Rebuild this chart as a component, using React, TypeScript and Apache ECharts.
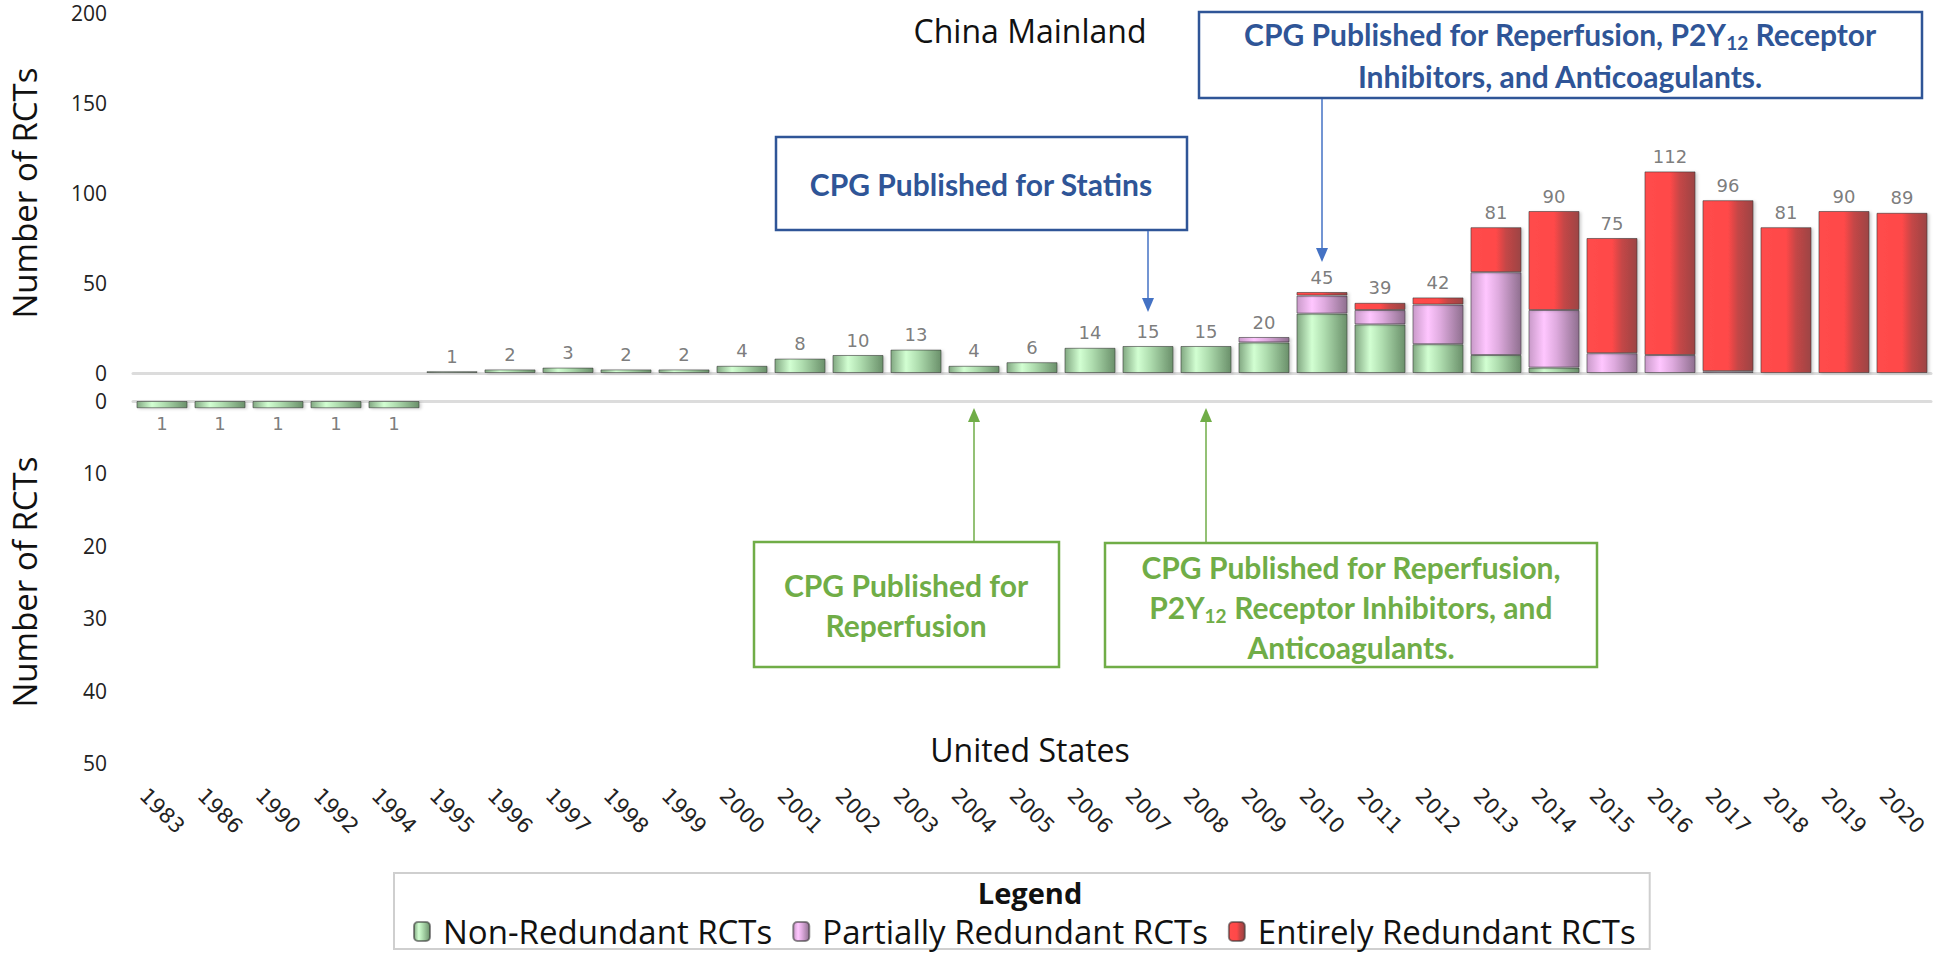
import React, { useEffect, useRef } from 'react';
import * as echarts from 'echarts';

const years = ['1983','1986','1990','1992','1994','1995','1996','1997','1998','1999','2000','2001','2002','2003','2004','2005','2006','2007','2008','2009','2010','2011','2012','2013','2014','2015','2016','2017','2018','2019','2020'];

// China Mainland (upper panel)
const chinaNonRedundant = [0,0,0,0,0,1,2,3,2,2,4,8,10,13,4,6,14,15,15,17,33,27,16,10,3,0,0,0,0,0,0];
const chinaPartial      = [0,0,0,0,0,0,0,0,0,0,0,0,0,0,0,0,0,0,0,3,10,8,22,46,32,11,10,1,0,0,0];
const chinaEntire       = [0,0,0,0,0,0,0,0,0,0,0,0,0,0,0,0,0,0,0,0,2,4,4,25,55,64,102,95,81,90,89];

// United States (lower panel)
const usNonRedundant = [1,1,1,1,1,0,0,0,0,0,0,0,0,0,0,0,0,0,0,0,0,0,0,0,0,0,0,0,0,0,0];
const usPartial      = [0,0,0,0,0,0,0,0,0,0,0,0,0,0,0,0,0,0,0,0,0,0,0,0,0,0,0,0,0,0,0];
const usEntire       = [0,0,0,0,0,0,0,0,0,0,0,0,0,0,0,0,0,0,0,0,0,0,0,0,0,0,0,0,0,0,0];

const topTicks = [0, 50, 100, 150, 200];
const bottomTicks = [0, 10, 20, 30, 40, 50];

const seriesNames = ['Non-Redundant RCTs', 'Partially Redundant RCTs', 'Entirely Redundant RCTs'];

const LG = (stops: [number, string][]) =>
  new echarts.graphic.LinearGradient(0, 0, 1, 0, stops.map(([offset, color]) => ({ offset, color })));

const greenFill = LG([[0, '#82a882'], [0.3, '#d2ffd2'], [0.55, '#aedcae'], [1, '#6a906a']]);
const pinkFill = LG([[0, '#c99ac9'], [0.3, '#ffc6ff'], [0.55, '#deaade'], [1, '#8f6f8f']]);
const redFill = LG([[0, '#ff4c4c'], [0.5, '#ff4848'], [0.7, '#c44646'], [1, '#9c4444']]);
const fills = [greenFill, pinkFill, redFill];

const nz = (arr: number[]) => arr.map((v) => (v ? v : null));
const sum3 = (a: number[], b: number[], c: number[]) => a.map((v, i) => v + b[i] + c[i]);

const BLUE = '#2F5597';
const BLUE_ARROW = '#4472C4';
const GREEN = '#70AD47';
const BOX_FONT = 'Lato, "Open Sans", sans-serif';
const MAIN_FONT = '"Open Sans", "Noto Sans", sans-serif';

export default function App() {
  const ref = useRef<HTMLDivElement>(null);
  useEffect(() => {
    if (!ref.current) return;
    const chart = echarts.init(ref.current, null, { renderer: 'svg' });

    const chinaTotals = sum3(chinaNonRedundant, chinaPartial, chinaEntire).map((v) => (v ? v : null));
    const usTotals = sum3(usNonRedundant, usPartial, usEntire).map((v) => (v ? v : null));

    const barCommon = {
      type: 'bar',
      barWidth: '88%',
      itemStyle: { borderColor: 'rgba(50,50,50,0.55)', borderWidth: 1, shadowColor: 'rgba(0,0,0,0.18)', shadowBlur: 3, shadowOffsetX: 2, shadowOffsetY: 1 },
    } as any;

    const chinaArrays = [chinaNonRedundant, chinaPartial, chinaEntire];
    const usArrays = [usNonRedundant, usPartial, usEntire];

    const series: any[] = [];
    chinaArrays.forEach((arr, i) => {
      series.push({
        ...barCommon,
        name: seriesNames[i],
        stack: 'cn',
        xAxisIndex: 0,
        yAxisIndex: 0,
        data: nz(arr),
        itemStyle: { ...barCommon.itemStyle, color: fills[i] },
      });
    });
    series.push({
      type: 'scatter',
      name: 'China total',
      xAxisIndex: 0,
      yAxisIndex: 0,
      symbolSize: 0,
      data: chinaTotals,
      label: { show: true, position: 'top', distance: 6, color: '#5a5a5a', fontSize: 18, fontFamily: '"DejaVu Sans", sans-serif' },
      silent: true,
    });
    usArrays.forEach((arr, i) => {
      series.push({
        ...barCommon,
        name: seriesNames[i],
        stack: 'us',
        xAxisIndex: 1,
        yAxisIndex: 1,
        data: nz(arr),
        itemStyle: { ...barCommon.itemStyle, color: fills[i] },
      });
    });
    series.push({
      type: 'scatter',
      name: 'US total',
      xAxisIndex: 1,
      yAxisIndex: 1,
      symbolSize: 0,
      data: usTotals,
      label: { show: true, position: 'bottom', distance: 6, color: '#5a5a5a', fontSize: 18, fontFamily: '"DejaVu Sans", sans-serif' },
      silent: true,
    });

    const zeroLine = { show: true, lineStyle: { color: '#dcdcdc', width: 3 } };
    const yLabel = { color: '#222', fontSize: 21, fontFamily: MAIN_FONT, margin: 26 };
    const yName = { color: '#111', fontSize: 33, fontFamily: MAIN_FONT };

    const option: any = {
      animation: false,
      backgroundColor: '#ffffff',
      grid: [
        { left: 129, right: 13, top: 13, height: 360 },
        { left: 129, right: 13, top: 401, height: 362 },
      ],
      xAxis: [
        { type: 'category', gridIndex: 0, data: years, position: 'bottom', axisLine: zeroLine, axisTick: { show: false }, axisLabel: { show: false } },
        { type: 'category', gridIndex: 1, data: years, position: 'top', axisLine: zeroLine, axisTick: { show: false }, axisLabel: { show: false } },
        { type: 'category', gridIndex: 1, data: years, position: 'bottom', axisLine: { show: false }, axisTick: { show: false },
          axisLabel: { rotate: -45, align: 'center', verticalAlign: 'middle', margin: 48, color: '#222', fontSize: 21, fontFamily: '"DejaVu Sans", sans-serif', interval: 0 } },
      ],
      yAxis: [
        { type: 'value', gridIndex: 0, min: topTicks[0], max: topTicks[topTicks.length - 1], interval: topTicks[1] - topTicks[0],
          axisLine: { show: false }, axisTick: { show: false }, splitLine: { show: false }, axisLabel: yLabel,
          name: 'Number of RCTs', nameLocation: 'middle', nameGap: 92, nameRotate: 90, nameTextStyle: yName },
        { type: 'value', gridIndex: 1, inverse: true, min: bottomTicks[0], max: bottomTicks[bottomTicks.length - 1], interval: bottomTicks[1] - bottomTicks[0],
          axisLine: { show: false }, axisTick: { show: false }, splitLine: { show: false }, axisLabel: yLabel,
          name: 'Number of RCTs', nameLocation: 'middle', nameGap: 92, nameRotate: 90, nameTextStyle: yName },
      ],
      legend: {
        data: seriesNames,
        left: 394,
        top: 873,
        orient: 'horizontal',
        padding: [42, 14, 1, 19],
        itemGap: 20,
        itemWidth: 16,
        itemHeight: 19,
        borderColor: '#cfcfcf',
        borderWidth: 2,
        backgroundColor: '#fff',
        textStyle: { color: '#111', fontSize: 33, fontFamily: MAIN_FONT, padding: [0, 0, 0, 8] },
        selectedMode: false,
      },
      series,
    };
    chart.setOption(option);

    const xOf = (cat: string) => chart.convertToPixel({ xAxisIndex: 0 }, cat) as number;
    const arrow = (x: number, yFrom: number, yTip: number, color: string) => {
      const dir = yTip > yFrom ? 1 : -1;
      return [
        { type: 'line', shape: { x1: x, y1: yFrom, x2: x, y2: yTip - dir * 12 }, style: { stroke: color, lineWidth: 1.5 }, z: 100 },
        { type: 'polygon', shape: { points: [[x - 6, yTip - dir * 14], [x + 6, yTip - dir * 14], [x, yTip]] }, style: { fill: color }, z: 100 },
      ];
    };
    const boxText = (cx: number, cy: number, text: string, color: string, lineHeight: number) => ({
      type: 'text',
      x: cx,
      y: cy,
      z: 101,
      style: {
        text,
        align: 'center',
        verticalAlign: 'middle',
        fill: color,
        fontSize: 30,
        fontWeight: 'bold',
        fontFamily: BOX_FONT,
        lineHeight,
        rich: {
          sub: { fontSize: 19, fontWeight: 'bold', fontFamily: BOX_FONT, fill: color, padding: [17, 0, 0, 0] },
        },
      },
    });
    const box = (x: number, y: number, w: number, h: number, color: string) => ({
      type: 'rect', z: 99, shape: { x, y, width: w, height: h }, style: { fill: '#fff', stroke: color, lineWidth: 2.5 },
    });

    const graphic: any[] = [
      { type: 'text', x: 1030, y: 30, style: { text: 'China Mainland', align: 'center', verticalAlign: 'middle', fill: '#111', fontSize: 32, fontFamily: MAIN_FONT } },
      { type: 'text', x: 1030, y: 749, style: { text: 'United States', align: 'center', verticalAlign: 'middle', fill: '#111', fontSize: 32, fontFamily: MAIN_FONT } },
      { type: 'text', x: 1030, y: 892, z: 120, style: { text: 'Legend', align: 'center', verticalAlign: 'middle', fill: '#111', fontSize: 29, fontWeight: 'bold', fontFamily: MAIN_FONT } },
      // Blue: statins
      box(776, 137, 411, 93, BLUE),
      boxText(981, 184, 'CPG Published for Statins', BLUE, 42),
      ...arrow(xOf('2007'), 231, 312, BLUE_ARROW),
      // Blue: reperfusion etc.
      box(1199, 12, 723, 86, BLUE),
      boxText(1560, 55, 'CPG Published for Reperfusion, P2Y{sub|12} Receptor\nInhibitors, and Anticoagulants.', BLUE, 42),
      ...arrow(xOf('2010'), 99, 262, BLUE_ARROW),
      // Green: reperfusion
      box(754, 542, 305, 125, GREEN),
      boxText(906, 605, 'CPG Published for\nReperfusion', GREEN, 40),
      ...arrow(xOf('2004'), 541, 408, GREEN),
      // Green: reperfusion etc.
      box(1105, 543, 492, 124, GREEN),
      boxText(1351, 607, 'CPG Published for Reperfusion,\nP2Y{sub|12} Receptor Inhibitors, and\nAnticoagulants.', GREEN, 40),
      ...arrow(xOf('2008'), 542, 408, GREEN),
    ];
    chart.setOption({ graphic });

    return () => chart.dispose();
  }, []);

  return <div ref={ref} style={{ position: 'fixed', left: 0, top: 0, width: 1944, height: 953, background: '#fff' }} />;
}
